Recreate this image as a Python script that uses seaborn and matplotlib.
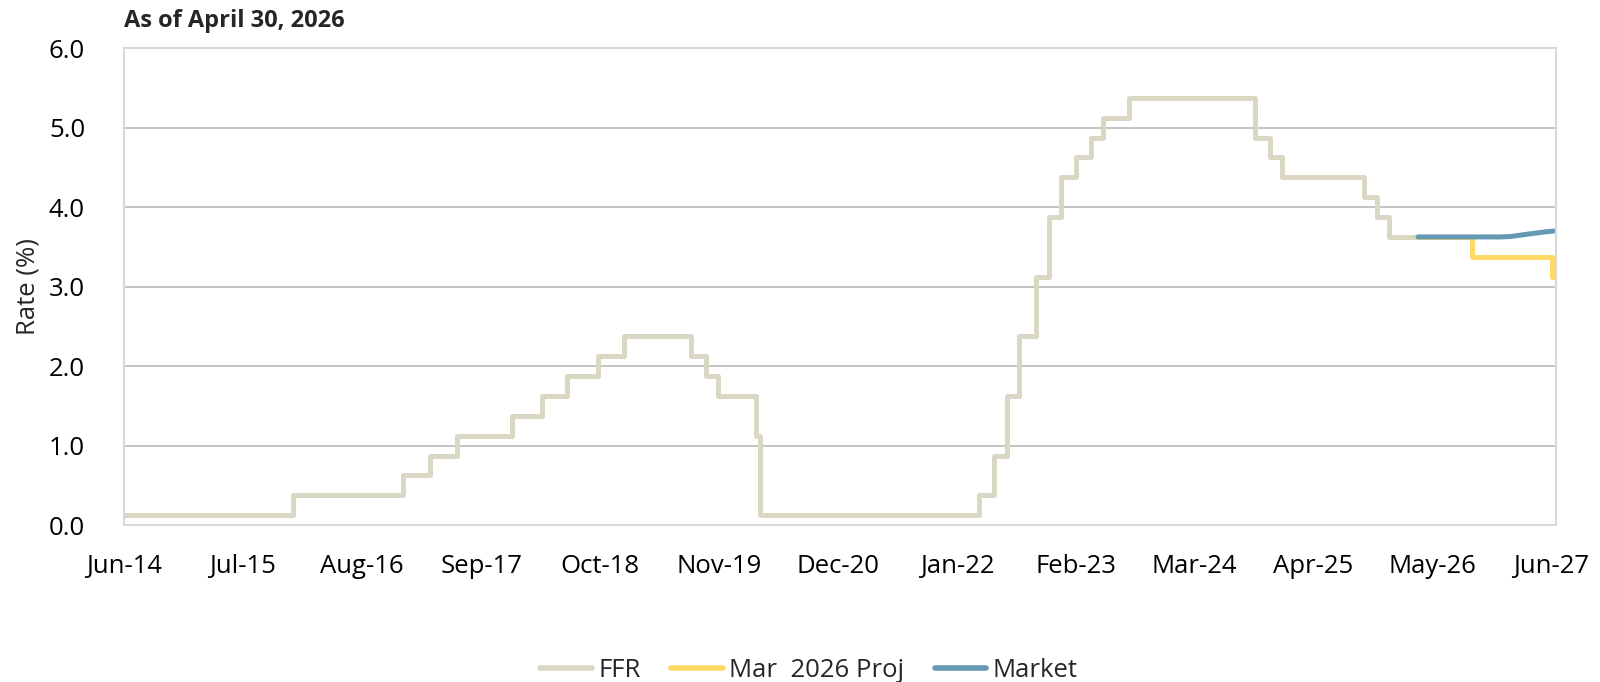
import matplotlib
matplotlib.use("Agg")
import matplotlib.pyplot as plt
import seaborn as sns
import pandas as pd

# FFR target range midpoint, value holds from each date
ffr_dates = ["2014-06-01", "2015-12-16", "2016-12-14", "2017-03-15", "2017-06-14",
             "2017-12-13", "2018-03-21", "2018-06-13", "2018-09-26", "2018-12-19",
             "2019-07-31", "2019-09-18", "2019-10-30", "2020-03-03", "2020-03-16",
             "2022-03-16", "2022-05-04", "2022-06-15", "2022-07-27", "2022-09-21",
             "2022-11-02", "2022-12-14", "2023-02-01", "2023-03-22", "2023-05-03",
             "2023-07-26", "2024-09-18", "2024-11-07", "2024-12-18", "2025-09-17",
             "2025-10-29", "2025-12-10", "2026-04-30"]
ffr_vals = [0.125, 0.375, 0.625, 0.875, 1.125,
            1.375, 1.625, 1.875, 2.125, 2.375,
            2.125, 1.875, 1.625, 1.125, 0.125,
            0.375, 0.875, 1.625, 2.375, 3.125,
            3.875, 4.375, 4.625, 4.875, 5.125,
            5.375, 4.875, 4.625, 4.375, 4.125,
            3.875, 3.625, 3.625]

proj_dates = ["2026-03-15", "2026-09-10", "2027-06-05", "2027-06-15"]
proj_vals = [3.625, 3.375, 3.125, 3.125]

mkt_dates = ["2026-03-15", "2026-06-15", "2026-09-15", "2026-12-15", "2027-01-15",
             "2027-02-15", "2027-03-15", "2027-04-15", "2027-05-15", "2027-06-15"]
mkt_vals = [3.625, 3.625, 3.625, 3.625, 3.63, 3.645, 3.66, 3.675, 3.69, 3.70]

tick_labels = ["Jun-14", "Jul-15", "Aug-16", "Sep-17", "Oct-18", "Nov-19", "Dec-20",
               "Jan-22", "Feb-23", "Mar-24", "Apr-25", "May-26", "Jun-27"]

ffr = pd.DataFrame({"date": pd.to_datetime(ffr_dates), "rate": ffr_vals})
proj = pd.DataFrame({"date": pd.to_datetime(proj_dates), "rate": proj_vals})
mkt = pd.DataFrame({"date": pd.to_datetime(mkt_dates), "rate": mkt_vals})

sns.set_style("white")
plt.rcParams["font.family"] = ["Open Sans", "DejaVu Sans"]

fig = plt.figure(figsize=(16, 6.82), dpi=100)
ax = fig.add_axes([0.0775, 0.23, 0.8948, 0.6995])

lw = 3.6
sns.lineplot(data=ffr, x="date", y="rate", ax=ax, color="#DAD8C5", lw=lw,
             drawstyle="steps-post", label="FFR", solid_capstyle="round")
sns.lineplot(data=proj, x="date", y="rate", ax=ax, color="#FFD966", lw=lw,
             drawstyle="steps-post", label="Mar  2026 Proj", solid_capstyle="round")
sns.lineplot(data=mkt, x="date", y="rate", ax=ax, color="#6399B2", lw=lw,
             label="Market", solid_capstyle="round")

ax.set_xlim(pd.Timestamp("2014-06-01"), pd.Timestamp("2027-06-16"))
ax.set_ylim(0, 6)
ax.set_yticks([0, 1, 2, 3, 4, 5, 6])
ax.set_yticklabels([f"{v:.1f}" for v in range(7)])
ticks = pd.date_range("2014-06-01", periods=13, freq="13MS")
ax.set_xticks(ticks)
ax.set_xticklabels(tick_labels)
ax.tick_params(axis="both", length=0, labelsize=18.5, colors="black")
ax.tick_params(axis="x", pad=21)
ax.tick_params(axis="y", pad=28)
ax.yaxis.grid(True, color="#BFBFBF", lw=1.3)
ax.set_axisbelow(True)
for s in ax.spines.values():
    s.set_color("#D9D9D9")
    s.set_linewidth(1.5)
ax.set_xlabel("")
ax.set_ylabel("Rate (%)", fontsize=18.5, labelpad=6)

fig.text(0.0775, 0.969, "As of April 30, 2026", fontsize=17, fontweight="bold",
         ha="left", va="center")

leg = ax.legend(loc="center", bbox_to_anchor=(0.4785, -0.305), ncol=3, frameon=False,
                fontsize=18.5, handlelength=2.0, handletextpad=0.25, columnspacing=1.2)
for h in leg.get_lines():
    h.set_linewidth(4.0)

fig.savefig("out.png", dpi=100)
